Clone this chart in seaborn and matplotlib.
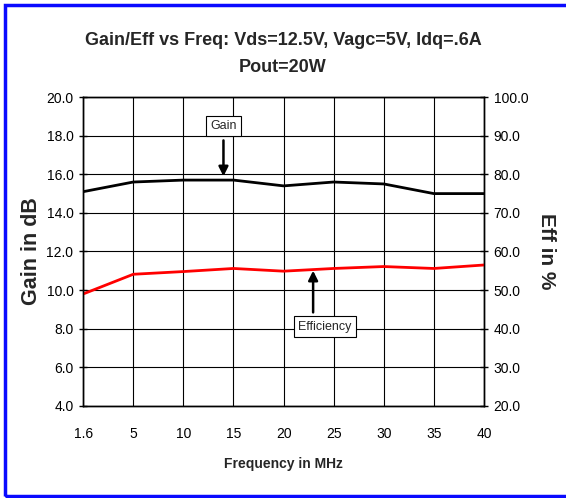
import matplotlib
matplotlib.use("Agg")
import matplotlib.pyplot as plt
from matplotlib.patches import Rectangle
import pandas as pd
import seaborn as sns

sns.set_style("white")
plt.rcParams['font.family'] = ['Liberation Sans', 'DejaVu Sans']

# values
freq_labels = ["1.6", "5", "10", "15", "20", "25", "30", "35", "40"]
gain_db = [15.1, 15.6, 15.7, 15.7, 15.4, 15.6, 15.5, 15.0, 15.0]
eff_pct = [49.0, 54.1, 54.8, 55.6, 54.9, 55.6, 56.1, 55.6, 56.5]

df = pd.DataFrame({"pos": range(len(freq_labels)), "gain": gain_db, "eff": eff_pct})

fig = plt.figure(figsize=(5.66, 4.98), dpi=100)
ax = fig.add_axes([0.147, 0.185, 0.708, 0.62])
ax2 = ax.twinx()

sns.lineplot(data=df, x="pos", y="gain", ax=ax, color="black", linewidth=2)
sns.lineplot(data=df, x="pos", y="eff", ax=ax2, color="#ff0000", linewidth=2)

ax.set_xlim(0, len(freq_labels) - 1)
ax.set_ylim(4, 20)
ax2.set_ylim(20, 100)
ax.set_xticks(range(len(freq_labels)))
ax.set_xticklabels(freq_labels)
ax.set_yticks([4 + 2 * i for i in range(9)])
ax.set_yticklabels(["%.1f" % (4 + 2 * i) for i in range(9)])
ax2.set_yticks([20 + 10 * i for i in range(9)])
ax2.set_yticklabels(["%.1f" % (20 + 10 * i) for i in range(9)])

ax.grid(True, color="black", linewidth=0.8)
for a in (ax, ax2):
    for s in a.spines.values():
        s.set_color("black")
        s.set_linewidth(1)
ax.tick_params(axis="y", direction="inout", length=6, width=1, colors="black", labelsize=10, pad=4)
ax.tick_params(axis="x", direction="inout", length=6, width=1, colors="black", labelsize=10, pad=12)
ax2.tick_params(axis="y", direction="inout", length=6, width=1, colors="black", labelsize=10, pad=4)

ax.set_xlabel("Frequency in MHz", fontsize=10, fontweight="bold", labelpad=12)
ax.set_ylabel("Gain in dB", fontsize=15.5, fontweight="bold", labelpad=3)
ax2.set_ylabel("Eff in %", fontsize=15, fontweight="bold", rotation=-90, labelpad=20)

fig.text(0.5, 0.918, "Gain/Eff vs Freq: Vds=12.5V, Vagc=5V, Idq=.6A", ha="center", va="center",
         fontsize=13, fontweight="bold")
fig.text(0.5, 0.865, "Pout=20W", ha="center", va="center", fontsize=13, fontweight="bold")

# annotations
arrow = dict(arrowstyle="-|>", color="black", lw=1.8, mutation_scale=14)
box = dict(boxstyle="square,pad=0.35", fc="white", ec="black", lw=0.8)
ax.annotate("", xy=(2.8, 15.75), xytext=(2.8, 17.9), arrowprops=arrow)
ax.text(2.8, 18.5, "Gain", ha="center", va="center", fontsize=9, bbox=box)
ax.annotate("", xy=(4.59, 11.15), xytext=(4.59, 8.7), arrowprops=arrow)
ax.text(4.83, 8.1, "Efficiency", ha="center", va="center", fontsize=9, bbox=box)

fig.patches.append(Rectangle((0.009, 0.004), 1.2, 0.986, transform=fig.transFigure,
                             fill=False, edgecolor="#0a0aff", linewidth=2.5))

fig.savefig("out.png", dpi=100)
